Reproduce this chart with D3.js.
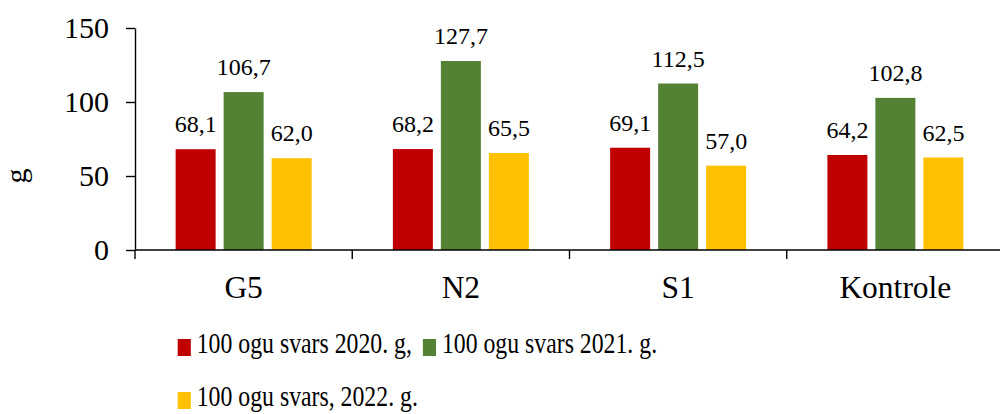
<!DOCTYPE html>
<html>
<head>
<meta charset="utf-8">
<script src="https://cdn.jsdelivr.net/npm/d3@7"></script>
<style>
  html, body { margin: 0; padding: 0; background: #fff; }
  svg { display: block; font-family: "Liberation Serif", "Times New Roman", serif; }
</style>
</head>
<body>
<svg id="chart" width="1000" height="414"></svg>
<script>
// Treatments along the x axis
const categories = ["G5", "N2", "S1", "Kontrole"];
// Series names (legend text)
const seriesNames = ["100 ogu svars 2020. g,", "100 ogu svars 2021. g.", "100 ogu svars, 2022. g."];
const seriesColors = ["#C00000", "#548235", "#FFC000"];
// Mass of 100 berries, g
const values2020 = [68.1, 68.2, 69.1, 64.2];
const values2021 = [106.7, 127.7, 112.5, 102.8];
const values2022 = [62.0, 65.5, 57.0, 62.5];
const yTicks = [0, 50, 100, 150];
const yLabel = "g";

(function draw() {
  const seriesValues = [values2020, values2021, values2022];
  const rows = categories.map((c, i) => ({
    category: c,
    bars: seriesNames.map((s, k) => ({ series: s, k, value: seriesValues[k][i] }))
  }));

  const svg = d3.select("#chart");
  const plotLeft = 135, plotRight = 1004, plotTop = 28, plotBottom = 250;

  const x0 = d3.scaleBand().domain(categories).range([plotLeft, plotRight]).padding(0);
  const barW = 40, gapW = 8, stepW = barW + gapW;
  const pIn = gapW / stepW;
  const pOut = (x0.bandwidth() / stepW - (seriesNames.length - pIn)) / 2;
  const x1 = d3.scaleBand().domain(seriesNames).range([0, x0.bandwidth()])
    .paddingInner(pIn).paddingOuter(pOut);
  const y = d3.scaleLinear().domain([0, 150]).range([plotBottom, plotTop]);

  const fmt = d3.formatLocale({ decimal: ",", thousands: " ", grouping: [3], currency: ["", ""] }).format(".1f");

  // Bars
  const groups = svg.append("g").selectAll("g").data(rows).join("g")
    .attr("transform", d => `translate(${x0(d.category)},0)`);
  groups.selectAll("rect").data(d => d.bars).join("rect")
    .attr("x", d => x1(d.series))
    .attr("y", d => y(d.value))
    .attr("width", x1.bandwidth())
    .attr("height", d => y(0) - y(d.value))
    .attr("fill", d => seriesColors[d.k]);

  // Value labels
  groups.selectAll("text").data(d => d.bars).join("text")
    .attr("x", d => x1(d.series) + x1.bandwidth() / 2)
    .attr("y", d => y(d.value) - 17)
    .attr("text-anchor", "middle")
    .attr("font-size", 24)
    .attr("fill", "#000")
    .text(d => fmt(d.value));

  // Y axis
  const yAxis = svg.append("g").attr("transform", `translate(${plotLeft},0)`)
    .call(d3.axisLeft(y).tickValues(yTicks).tickSize(9).tickSizeOuter(0).tickPadding(17).tickFormat(d3.format("d")));
  yAxis.select(".domain").attr("stroke", "#000").attr("stroke-width", 1.4);
  yAxis.selectAll(".tick line").attr("stroke", "#000").attr("stroke-width", 1.4);
  yAxis.selectAll(".tick text").attr("font-size", 30).attr("font-family", "Liberation Serif").attr("fill", "#000");

  // X axis line with category boundary ticks
  svg.append("line").attr("x1", plotLeft).attr("x2", plotRight).attr("y1", y(0)).attr("y2", y(0))
    .attr("stroke", "#000").attr("stroke-width", 1.4);
  const bounds = categories.map(c => x0(c)).concat([x0(categories[categories.length - 1]) + x0.bandwidth()]);
  svg.append("g").selectAll("line").data(bounds).join("line")
    .attr("x1", d => d).attr("x2", d => d)
    .attr("y1", y(0)).attr("y2", y(0) + 9)
    .attr("stroke", "#000").attr("stroke-width", 1.4);
  svg.append("g").selectAll("text").data(categories).join("text")
    .attr("x", d => x0(d) + x0.bandwidth() / 2)
    .attr("y", 298)
    .attr("text-anchor", "middle")
    .attr("font-size", 31.5)
    .attr("fill", "#000")
    .text(d => d);

  // Y axis title
  svg.append("text")
    .attr("transform", "translate(26,176) rotate(-90)")
    .attr("text-anchor", "middle")
    .attr("font-size", 30)
    .attr("fill", "#000")
    .text(yLabel);

  // Legend (condensed horizontally)
  const legendItems = [
    { k: 0, u: 0, base: 353 },
    { k: 1, u: 299, base: 353 },
    { k: 2, u: 0, base: 406 }
  ];
  const legend = svg.append("g").attr("transform", "translate(177.7,0) scale(0.82,1)");
  const li = legend.selectAll("g").data(legendItems).join("g");
  li.append("rect")
    .attr("x", d => d.u).attr("y", d => d.base - 14)
    .attr("width", 16).attr("height", 17)
    .attr("fill", d => seriesColors[d.k]);
  li.append("text")
    .attr("x", d => d.u + 23.2).attr("y", d => d.base)
    .attr("font-size", 29)
    .attr("fill", "#000")
    .text(d => seriesNames[d.k]);
})();
</script>
</body>
</html>
